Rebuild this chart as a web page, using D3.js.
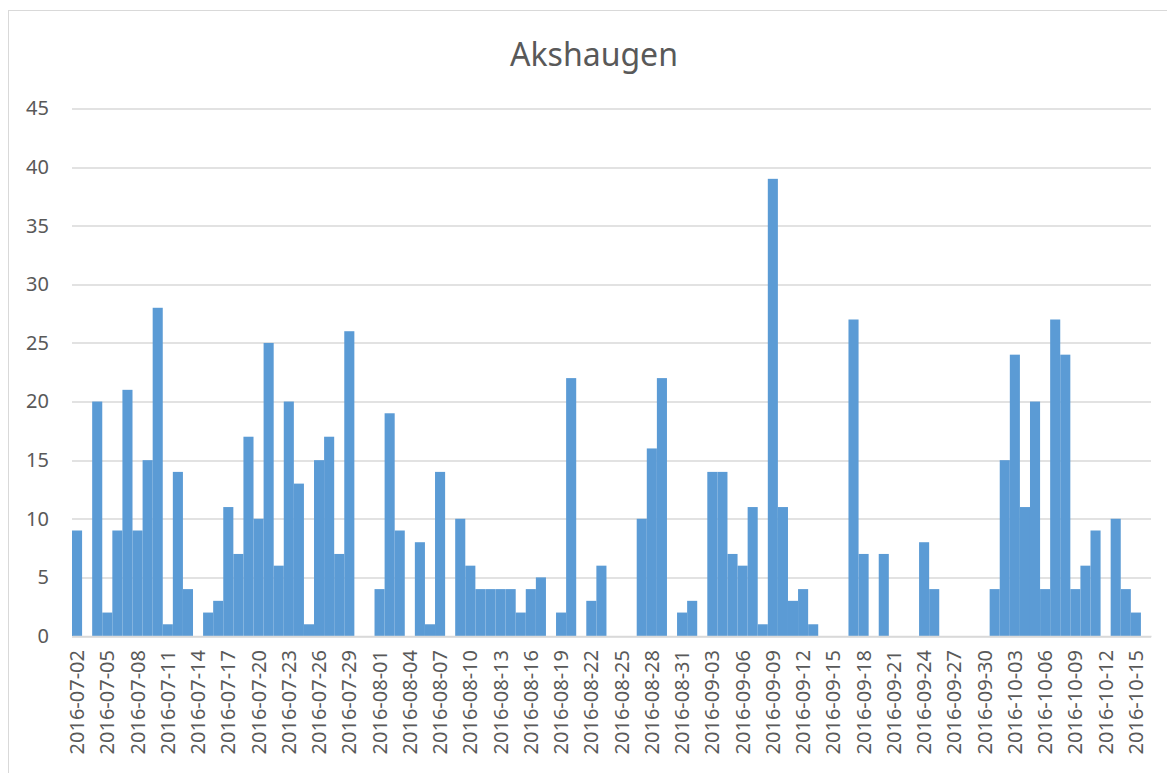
<!DOCTYPE html>
<html>
<head>
<meta charset="utf-8">
<script src="https://cdn.jsdelivr.net/npm/d3@7"></script>
<style>
  body { margin: 0; background: #fff; }
  svg text { font-family: "Noto Sans", "Open Sans", sans-serif; fill: #595959; }
</style>
</head>
<body>
<div id="chart"></div>
<script>
const WIDTH = 1167;
const HEIGHT = 773;

const MARGIN = {
  TOP: 108.5,
  RIGHT: 16,
  BOTTOM: 137,
  LEFT: 72,
};

const chartTitle = "Akshaugen";
const startDate = "2016-07-02";

// one value per day, 2016-07-02 .. 2016-10-16
const counts = [
  9, 0, 20, 2, 9, 21, 9, 15, 28, 1, 14, 4, 0, 2, 3, 11, 7, 17, 10, 25,
  6, 20, 13, 1, 15, 17, 7, 26, 0, 0, 4, 19, 9, 0, 8, 1, 14, 0, 10, 6,
  4, 4, 4, 4, 2, 4, 5, 0, 2, 22, 0, 3, 6, 0, 0, 0, 10, 16, 22, 0,
  2, 3, 0, 14, 14, 7, 6, 11, 1, 39, 11, 3, 4, 1, 0, 0, 0, 27, 7, 0,
  7, 0, 0, 0, 8, 4, 0, 0, 0, 0, 0, 4, 15, 24, 11, 20, 4, 27, 24, 4,
  6, 9, 0, 10, 4, 2, 0
];

const tickLabels = [
  "2016-07-02", "2016-07-05", "2016-07-08", "2016-07-11", "2016-07-14",
  "2016-07-17", "2016-07-20", "2016-07-23", "2016-07-26", "2016-07-29",
  "2016-08-01", "2016-08-04", "2016-08-07", "2016-08-10", "2016-08-13",
  "2016-08-16", "2016-08-19", "2016-08-22", "2016-08-25", "2016-08-28",
  "2016-08-31", "2016-09-03", "2016-09-06", "2016-09-09", "2016-09-12",
  "2016-09-15", "2016-09-18", "2016-09-21", "2016-09-24", "2016-09-27",
  "2016-09-30", "2016-10-03", "2016-10-06", "2016-10-09", "2016-10-12",
  "2016-10-15"
];

const yTicks = [0, 5, 10, 15, 20, 25, 30, 35, 40, 45];

const fmt = d3.utcFormat("%Y-%m-%d");
const day0 = d3.utcParse("%Y-%m-%d")(startDate);
const data = counts.map((v, i) => ({ date: fmt(d3.utcDay.offset(day0, i)), value: v }));

const innerW = WIDTH - MARGIN.LEFT - MARGIN.RIGHT - 0; // 1079
const plotW = 1079;
const plotH = 636 - MARGIN.TOP;

const svg = d3.select("#chart")
  .append("svg")
  .attr("width", WIDTH)
  .attr("height", HEIGHT);

// chart area border
svg.append("rect")
  .attr("x", 8.5)
  .attr("y", 10.5)
  .attr("width", WIDTH)
  .attr("height", HEIGHT)
  .attr("fill", "none")
  .attr("stroke", "#d9d9d9")
  .attr("stroke-width", 1);

svg.append("text")
  .attr("x", 594)
  .attr("y", 66)
  .attr("text-anchor", "middle")
  .style("font-size", "32px")
  .text(chartTitle);

const g = svg.append("g")
  .attr("transform", `translate(${MARGIN.LEFT}, ${MARGIN.TOP})`);

const xScale = d3.scaleBand()
  .domain(data.map((d) => d.date))
  .range([0, plotW])
  .paddingInner(0)
  .paddingOuter(0);

const yScale = d3.scaleLinear()
  .domain([0, 45])
  .range([plotH, 0]);

// gridlines
g.append("g")
  .selectAll("line")
  .data(yTicks)
  .join("line")
  .attr("x1", 0)
  .attr("x2", plotW)
  .attr("y1", (d) => Math.round(yScale(d)) + 0.5)
  .attr("y2", (d) => Math.round(yScale(d)) + 0.5)
  .attr("stroke", "#d9d9d9")
  .attr("stroke-width", 1.5);

// bars
g.append("g")
  .selectAll("rect")
  .data(data)
  .join("rect")
  .attr("x", (d) => xScale(d.date))
  .attr("y", (d) => yScale(d.value))
  .attr("width", xScale.bandwidth())
  .attr("height", (d) => plotH - yScale(d.value))
  .attr("fill", "#5b9bd5");

// y axis labels
const yAxis = d3.axisLeft(yScale).tickValues(yTicks).tickSize(0).tickPadding(23);
g.append("g")
  .call(yAxis)
  .call((a) => a.select(".domain").remove())
  .selectAll("text")
  .style("font-size", "20px")
  .attr("fill", "#595959");

// x axis
const xAxis = d3.axisBottom(xScale).tickValues(tickLabels).tickSize(0);
const xg = g.append("g")
  .attr("transform", `translate(0, ${plotH})`)
  .call(xAxis);
xg.select(".domain").attr("stroke", "#d9d9d9").attr("stroke-width", 1.5);
xg.selectAll("text")
  .style("font-size", "20px")
  .attr("fill", "#595959")
  .attr("text-anchor", "end")
  .attr("transform", "rotate(-90)")
  .attr("x", -14)
  .attr("y", 0)
  .attr("dy", "0.35em");
</script>
</body>
</html>
